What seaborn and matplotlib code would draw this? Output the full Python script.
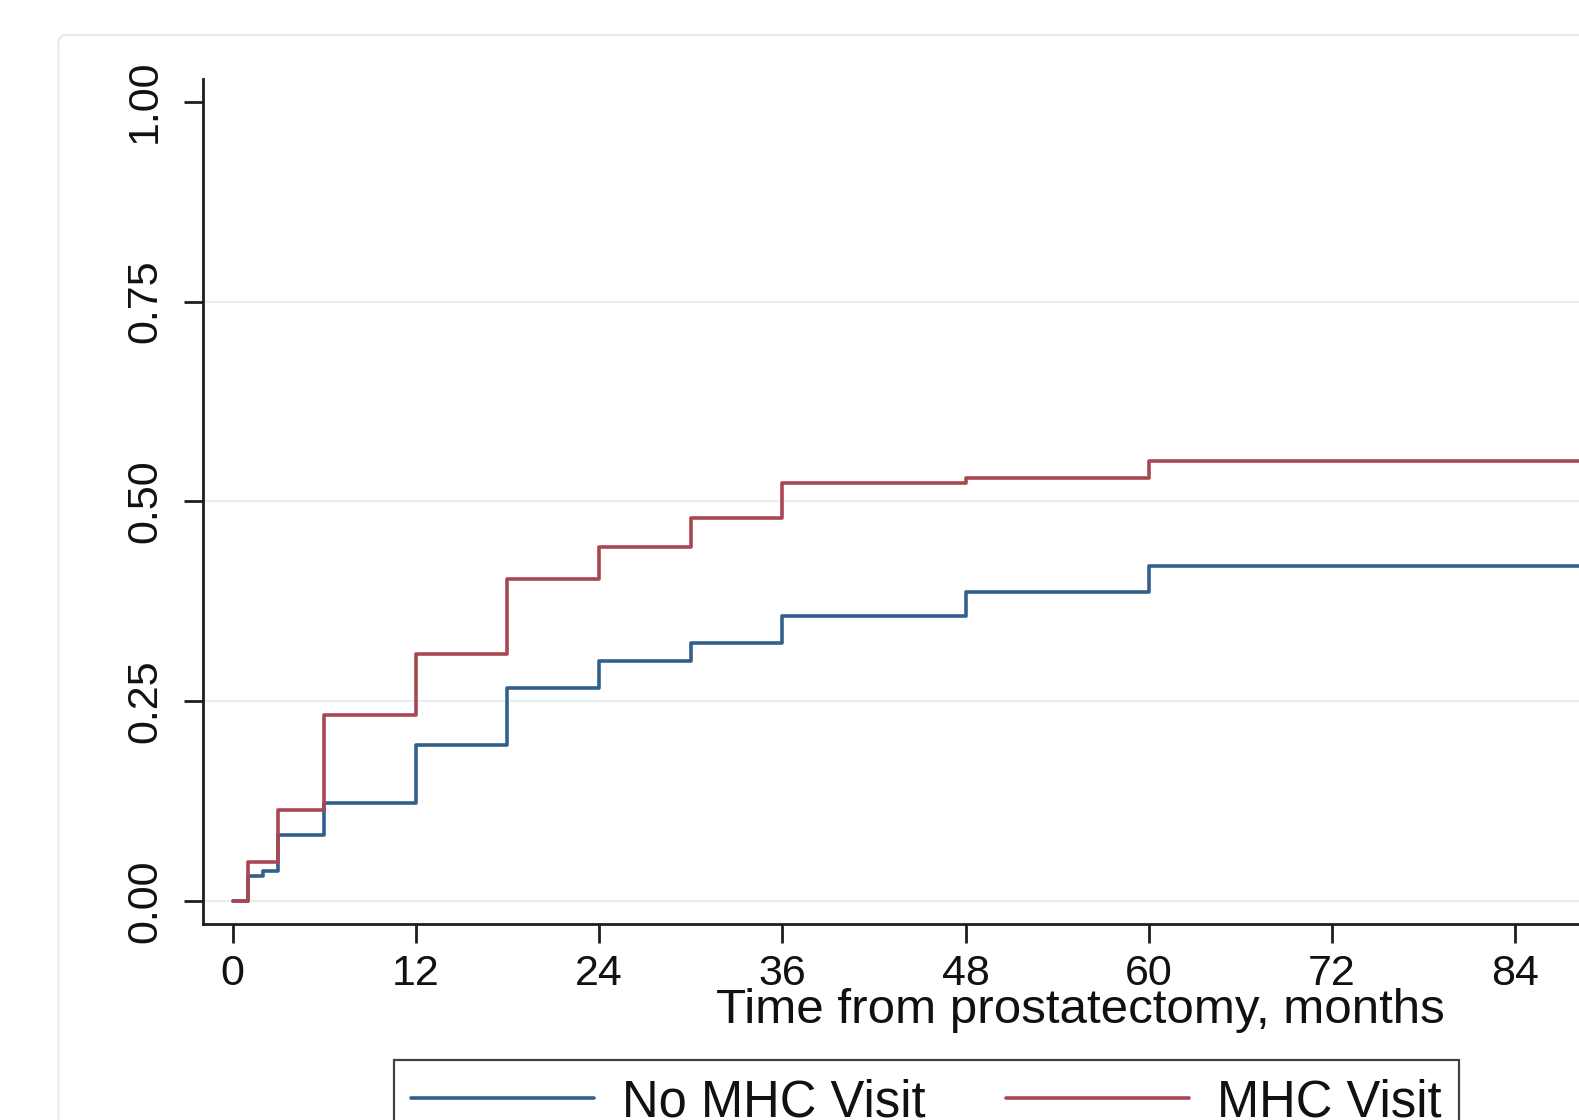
import numpy as np
import pandas as pd
import matplotlib
matplotlib.use("Agg")
import matplotlib.pyplot as plt
from matplotlib.patches import FancyBboxPatch
from matplotlib.lines import Line2D
import seaborn as sns

# ---- data ----
months = [0, 1, 2, 3, 6, 12, 18, 24, 30, 36, 48, 60, 120]
no_mhc = [0.000, 0.032, 0.038, 0.083, 0.123, 0.196, 0.267, 0.301, 0.323, 0.357, 0.387, 0.419, 0.419]
mhc = [0.000, 0.049, 0.049, 0.114, 0.233, 0.309, 0.403, 0.443, 0.479, 0.523, 0.529, 0.551, 0.551]
groups = ["No MHC Visit", "MHC Visit"]
x_ticks = [0, 12, 24, 36, 48, 60, 72, 84]
y_ticks = [0.00, 0.25, 0.50, 0.75, 1.00]
y_tick_labels = ["0.00", "0.25", "0.50", "0.75", "1.00"]
x_title = "Time from prostatectomy, months"

df = pd.DataFrame({
    "time": months + months,
    "fail": no_mhc + mhc,
    "group": [groups[0]] * len(months) + [groups[1]] * len(months),
})

sns.set_theme(style="white")
plt.rcParams["font.family"] = ["Liberation Sans", "DejaVu Sans"]

W, H, DPI = 1579, 1120, 100
fig = plt.figure(figsize=(W / DPI, H / DPI), dpi=DPI)
fig.patch.set_facecolor("white")

# outer graph-region border (light, rounded)
border = FancyBboxPatch((0.584, -1.0), 20.0, 10.848 + 1.0,
                        boxstyle="round,pad=0,rounding_size=0.08",
                        transform=fig.dpi_scale_trans, facecolor="none",
                        edgecolor="#e3ecee", linewidth=1.6, zorder=0)
fig.patches.append(border)

# axes geometry in pixels
ax_left, ax_right = 203.4, 1957.6
ax_top, ax_bottom = 78.5, 924.4
ax = fig.add_axes([ax_left / W, 1 - ax_bottom / H,
                   (ax_right - ax_left) / W, (ax_bottom - ax_top) / H])
ax.set_facecolor("none")
ax.set_zorder(2)

x0_px, px_per_month = 232.6, 15.27
y0_px, px_per_unit = 901.3, 799.6
ax.set_xlim((ax_left - x0_px) / px_per_month, (ax_right - x0_px) / px_per_month)
ax.set_ylim((y0_px - ax_bottom) / px_per_unit, (y0_px - ax_top) / px_per_unit)

palette = {groups[0]: "#335f8c", groups[1]: "#a94651"}

# gridlines
for yv in y_ticks[:-1]:
    ax.axhline(yv, color="#e6eff1", linewidth=1.6, zorder=0.5)

sns.lineplot(data=df, x="time", y="fail", hue="group", hue_order=groups,
             palette=palette, drawstyle="steps-post", estimator=None,
             linewidth=2.6, legend=False, ax=ax, zorder=3)

# spines
for s in ["top", "right"]:
    ax.spines[s].set_visible(False)
for s in ["left", "bottom"]:
    ax.spines[s].set_color("#1e1e1e")
    ax.spines[s].set_linewidth(2.0)

ax.set_xticks(x_ticks)
ax.set_xticklabels([str(t) for t in x_ticks])
ax.set_yticks(y_ticks)
ax.set_yticklabels(y_tick_labels)
ax.tick_params(axis="both", which="major", direction="out", length=13.5,
               width=2.0, color="#1e1e1e", labelcolor="#111111", labelsize=31,
               left=True, bottom=True)
ax.tick_params(axis="x", pad=8)
ax.tick_params(axis="y", pad=14, labelrotation=90)
for lab in ax.get_yticklabels():
    lab.set_va("center")
    lab.set_ha("right")

ax.set_ylabel("")
ax.set_xlabel(x_title, fontsize=35.5, color="#111111", va="baseline")
ax.xaxis.set_label_coords(1080.5 / W, 1 - 1023 / H, transform=fig.transFigure)

handles = [Line2D([0], [0], color=palette[g], linewidth=2.6) for g in groups]
leg = fig.legend(handles, groups, loc="upper left",
                 bbox_to_anchor=(393.7 / W, 1 - 1060.4 / H), borderaxespad=0,
                 ncol=2, fontsize=36.5, frameon=True, fancybox=False,
                 handlelength=3.6, handletextpad=0.55, columnspacing=1.6,
                 borderpad=0.35)
leg.get_frame().set_edgecolor("#111111")
leg.get_frame().set_linewidth(1.6)
for t in leg.get_texts():
    t.set_color("#111111")

fig.savefig("out.png", dpi=DPI, facecolor="white")
